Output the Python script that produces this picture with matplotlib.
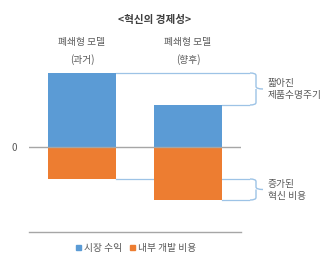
import matplotlib
matplotlib.use('Agg')
import matplotlib.pyplot as plt
import matplotlib.transforms as mtransforms
from matplotlib.path import Path
from matplotlib.patches import PathPatch, Patch

plt.rcParams['font.family'] = ['Noto Sans CJK KR', 'DejaVu Sans']

title = '<혁신의 경제성>'
categories = ['폐쇄형 모델\n(과거)', '폐쇄형 모델\n(향후)']
revenue = [74, 42]
dev_cost = [-32, -53]
series_names = ['시장 수익', '내부 개발 비용']
brace_labels = ['짧아진\n제품수명주기', '증가된\n혁신 비용']

blue = '#5B9BD5'
orange = '#ED7D31'
grey = '#A6A6A6'
text_col = '#595959'
guide = '#9DC3E6'

fig = plt.figure(figsize=(3.34, 2.69), dpi=100)
ax = fig.add_axes([29 / 334, 37 / 269, 212 / 334, 170 / 269])

x = list(range(len(categories)))
w = 0.635
ax.bar(x, revenue, width=w, color=blue, zorder=2)
ax.bar(x, dev_cost, width=w, color=orange, zorder=2)

ax.set_xlim(-0.5, 1.5)
ax.set_ylim(-85, 85)
ax.axhline(0, color=grey, lw=1.0, zorder=3)
ax.axhline(-85, color=grey, lw=1.0, zorder=3, clip_on=False)
for s in ax.spines.values():
    s.set_visible(False)
ax.set_xticks([])
ax.set_yticks([0])
ax.set_yticklabels(['0'], fontsize=7, color=text_col)
ax.tick_params(axis='y', length=0, pad=9)

# category labels above bars
trans = mtransforms.blended_transform_factory(ax.transData, fig.transFigure)
for xi, lab in zip(x, categories):
    top, bot = lab.split('\n')
    ax.text(xi, 1 - 42 / 269, top, transform=trans, ha='center', va='center',
            fontsize=7, color=text_col)
    ax.text(xi, 1 - 60 / 269, bot, transform=trans, ha='center', va='center',
            fontsize=7, color=text_col)

fig.text(155 / 334, 1 - 20 / 269, title, ha='center', va='center',
         fontsize=7.6, fontweight='bold', color='#404040')


def px2x(px):
    # pixel column -> data x
    return (px - 29) / 106 - 0.5


x_end = px2x(249)
x_b0 = px2x(250)
x_b1 = px2x(256)
x_tip = px2x(263)
x_txt = px2x(268)


def brace(y_top, y_bot, label):
    ym = (y_top + y_bot) / 2
    r = 2.5
    verts = [(x_b0, y_top), (x_b1, y_top), (x_b1, y_top - r),
             (x_b1, ym + r), (x_b1, ym), (x_tip, ym),
             (x_b1, ym), (x_b1, ym - r), (x_b1, y_bot + r),
             (x_b1, y_bot), (x_b0, y_bot)]
    codes = [Path.MOVETO, Path.CURVE3, Path.CURVE3,
             Path.LINETO, Path.CURVE3, Path.CURVE3,
             Path.MOVETO, Path.CURVE3, Path.LINETO,
             Path.CURVE3, Path.CURVE3]
    ax.add_patch(PathPatch(Path(verts, codes), fill=False, ec=guide, lw=1.0,
                           clip_on=False))
    ax.text(x_txt, ym, label, ha='left', va='center', fontsize=7,
            color=text_col, linespacing=1.25, clip_on=False)


for i in range(2):
    ax.plot([x[i] + w / 2, x_end], [revenue[i], revenue[i]], color=guide,
            lw=0.9, clip_on=False, zorder=1)
    ax.plot([x[i] + w / 2, x_end], [dev_cost[i], dev_cost[i]], color=guide,
            lw=0.9, clip_on=False, zorder=1)

brace(max(revenue), min(revenue), brace_labels[0])
brace(max(dev_cost), min(dev_cost), brace_labels[1])

handles = [Patch(color=blue, label=series_names[0]),
           Patch(color=orange, label=series_names[1])]
fig.legend(handles=handles, loc='center', bbox_to_anchor=(136 / 334, 1 - 248 / 269),
           ncol=2, frameon=False, fontsize=7, handlelength=0.55, handleheight=0.55,
           handletextpad=0.3, columnspacing=0.8, labelcolor=text_col)

fig.savefig('out.png', dpi=100)
